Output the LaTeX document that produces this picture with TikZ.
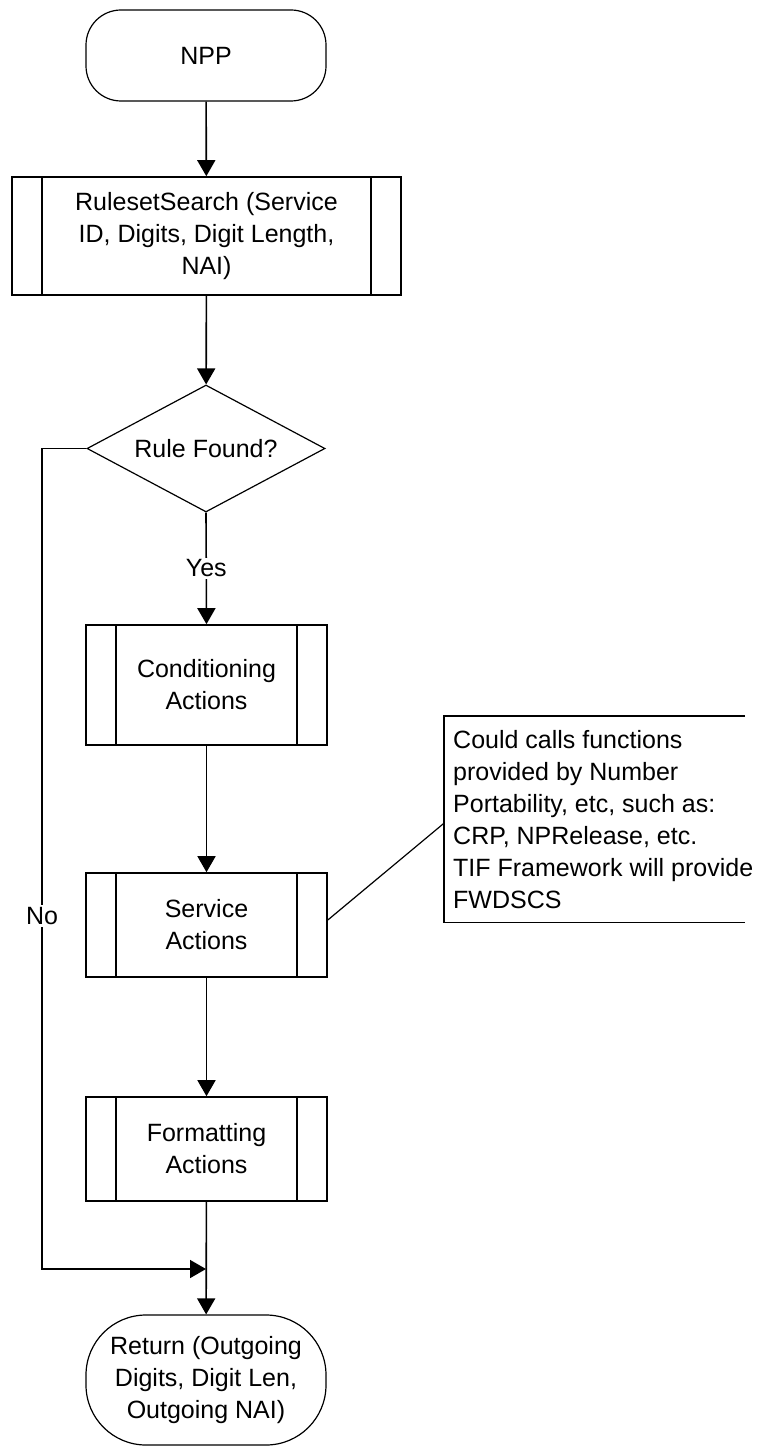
\documentclass[tikz,border=0pt]{standalone}
\usepackage{fontspec}
\setmainfont{Liberation Sans}
\usetikzlibrary{arrows.meta,shapes.geometric}
\begin{document}
\begin{tikzpicture}[x=1pt,y=-1pt,
  every node/.style={font=\fontsize{25}{32}\selectfont, inner sep=0pt, align=center},
  thick line/.style={line width=1.6pt},
  thin line/.style={line width=1.2pt},
  flow/.style={thick line, -{Triangle[width=18pt,length=16pt]}},
  terminal/.style={draw, thin line, rectangle, rounded corners=#1, minimum width=240},
  decision/.style={draw, thin line, diamond, minimum width=238, minimum height=127, shape aspect=1.874},
  procbox/.style={draw, thick line, rectangle, minimum width=241,
    path picture={
      \draw[thick line] ([xshift=30pt]path picture bounding box.north west) -- ([xshift=30pt]path picture bounding box.south west);
      \draw[thick line] ([xshift=-30pt]path picture bounding box.north east) -- ([xshift=-30pt]path picture bounding box.south east);
    }},
  lbl/.style={fill=white, inner sep=2pt}
]
\fill[white] (0,0) rectangle (767,1447);
\useasboundingbox (0,0) rectangle (767,1447);

% main flow
\node[terminal=35, minimum height=91] (npp) at (206,55.5) {NPP};
\node[procbox, minimum width=389, minimum height=118] (rs) at (206.5,236)
  {RulesetSearch (Service\\ID, Digits, Digit Length,\\NAI)};
\node[decision] (dec) at (206,448.5) {Rule Found?};
\node[procbox, minimum height=120] (cond) at (206.5,685) {Conditioning\\Actions};
\node[procbox, minimum height=104] (svc) at (206.5,925) {Service\\Actions};
\node[procbox, minimum height=104] (fmt) at (206.5,1149) {Formatting\\Actions};
\node[terminal=60, minimum height=130] (ret) at (206,1380)
  {Return (Outgoing\\Digits, Digit Len,\\Outgoing NAI)};

% annotation attached to the service step
\node[anchor=north west, align=left, minimum height=206, inner xsep=9pt, inner ysep=0pt] (note) at (444,716)
  {Could calls functions\\provided by Number\\Portability, etc, such as:\\CRP, NPRelease, etc.\\TIF Framework will provide\\FWDSCS};
\draw[thin line] ([xshift=301pt]note.north west) -- (note.north west) -- (note.south west) -- ([xshift=301pt]note.south west);
\draw[thin line] ([yshift=5pt]svc.east) -- ([yshift=-4pt]note.west);

% bypass route
\coordinate (nobend) at (42,1269);
\coordinate (merge) at (206,1269);

\draw[flow] (npp) -- (rs);
\draw[flow] (rs) -- (dec);
\draw[flow] (dec.south) -- node[lbl]{Yes} (cond.north);
\draw[flow] (cond) -- (svc);
\draw[flow] (svc) -- (fmt);
\draw[flow] (fmt) -- (ret);
\draw[flow] (dec.west) -- (dec.west -| nobend) -- node[lbl, pos=0.57]{No} (nobend) -- (merge);
\end{tikzpicture}
\end{document}
